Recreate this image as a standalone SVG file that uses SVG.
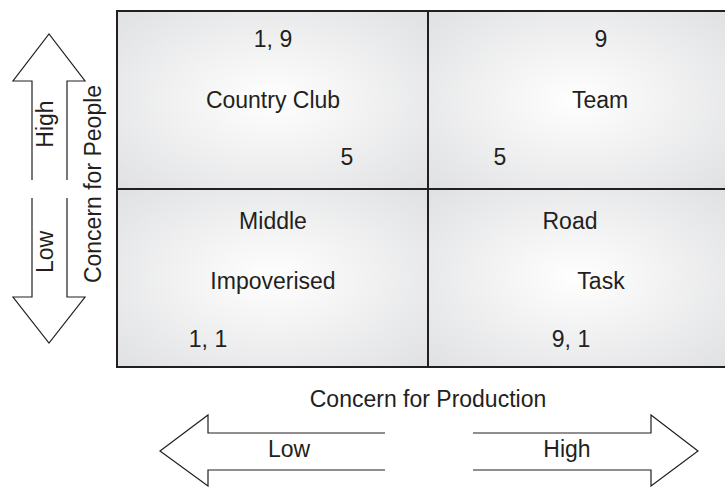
<svg xmlns="http://www.w3.org/2000/svg" width="725" height="487" viewBox="0 0 725 487">
  <defs>
    <radialGradient id="quadFill" cx="0.5" cy="0.5" r="0.72">
      <stop offset="0" stop-color="#ffffff"/>
      <stop offset="0.15" stop-color="#fafafa"/>
      <stop offset="1" stop-color="#dfe0e2"/>
    </radialGradient>
  </defs>
  <style>
    text { font-family: "Liberation Sans", Arial, sans-serif; font-size: 23px; fill: #231f20; text-anchor: middle; }
    .quad { fill: url(#quadFill); stroke: none; }
    .grid { stroke: #231f20; stroke-width: 2; fill: none; }
    .arrow { fill: #ffffff; stroke: #231f20; stroke-width: 1.2; stroke-linejoin: miter; }
  </style>
  <rect width="725" height="487" fill="#ffffff"/>

  <!-- Grid quadrants -->
  <g id="country-club">
    <rect class="quad" x="117" y="11" width="311" height="178"/>
    <text x="273" y="47">1, 9</text>
    <text x="273" y="108">Country Club</text>
    <text x="347" y="165">5</text>
  </g>
  <g id="team">
    <rect class="quad" x="428" y="11" width="299" height="178"/>
    <text x="601" y="47">9</text>
    <text x="600" y="108">Team</text>
    <text x="500" y="165">5</text>
  </g>
  <g id="impoverished">
    <rect class="quad" x="117" y="189" width="311" height="178"/>
    <text x="273" y="229">Middle</text>
    <text x="273" y="289">Impoverised</text>
    <text x="208" y="347">1, 1</text>
  </g>
  <g id="task">
    <rect class="quad" x="428" y="189" width="299" height="178"/>
    <text x="570" y="229">Road</text>
    <text x="601" y="289">Task</text>
    <text x="571" y="347">9, 1</text>
  </g>
  <g id="grid-lines">
    <rect class="grid" x="117" y="11" width="620" height="356"/>
    <line class="grid" x1="428" y1="11" x2="428" y2="367"/>
    <line class="grid" x1="117" y1="189" x2="727" y2="189"/>
  </g>

  <!-- Vertical axis: concern for people -->
  <g id="people-axis">
    <path class="arrow" d="M32,180 V81 H13 L49,34 L85,81 H67 V180"/>
    <path class="arrow" d="M32,198 V297 H13 L49,343 L85,297 H67 V198"/>
    <text transform="translate(53,124) rotate(-90)">High</text>
    <text transform="translate(53,252) rotate(-90)">Low</text>
    <text transform="translate(101,184) rotate(-90)">Concern for People</text>
  </g>

  <!-- Horizontal axis: concern for production -->
  <g id="production-axis">
    <text x="428" y="407">Concern for Production</text>
    <path class="arrow" d="M385,433 H208 V415 L160,451 L208,486 V470 H385"/>
    <path class="arrow" d="M473,433 H651 V415 L698,451 L651,486 V470 H473"/>
    <text x="289" y="457">Low</text>
    <text x="567" y="457">High</text>
  </g>
</svg>
